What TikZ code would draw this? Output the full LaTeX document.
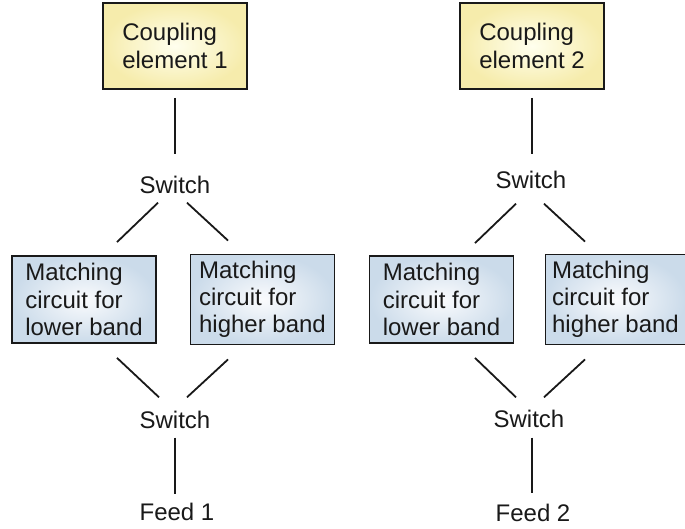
\documentclass[tikz,border=0pt]{standalone}
\usepackage{fontspec}
\setmainfont{Liberation Sans}

\definecolor{couplingin}{RGB}{255,255,238}
\definecolor{couplingout}{RGB}{246,236,172}
\definecolor{matchin}{RGB}{250,251,253}
\definecolor{matchout}{RGB}{203,219,234}
\definecolor{ink}{RGB}{25,25,25}

\tikzset{
  every node/.style={font=\fontsize{12}{13.6}\selectfont, text=ink},
  coupling/.style={draw=ink, line width=0.9pt, inner color=couplingin,
    outer color=couplingout, minimum width=72pt, minimum height=43pt, align=left},
  matching/.style={draw=ink, line width=0.9pt, inner color=matchin,
    outer color=matchout, minimum width=72pt, minimum height=43.5pt, align=left},
  label/.style={inner sep=0pt},
  wire/.style={draw=ink, line width=0.9pt},
}

\begin{document}
\begin{tikzpicture}[x=0.5pt, y=-0.5pt]
    \useasboundingbox (0,0) rectangle (685,529);

    % Left branch
    \node[coupling] (ce1) at (175,46) {Coupling\\element 1};
    \node[label] (sw1a) at (175,185) {Switch};
    \node[matching] (mc1) at (84,299.5) {Matching\\circuit for\\lower band};
    \node[matching] (mc2) at (262.5,299.5) {Matching\\circuit for\\higher band};
    \node[label] (sw1b) at (175,420) {Switch};
    \node[label] (feed1) at (177,512) {Feed 1};

    % Right branch
    \node[coupling] (ce2) at (532,46) {Coupling\\element 2};
    \node[label] (sw2a) at (531,180) {Switch};
    \node[matching] (mc3) at (441.5,299.5) {Matching\\circuit for\\lower band};
    \node[matching, minimum width=68.5pt] (mc4) at (615.5,299.5) {Matching\\circuit for\\higher band};
    \node[label] (sw2b) at (529,419) {Switch};
    \node[label] (feed2) at (533,513) {Feed 2};

    % Wires, left branch
    \draw[wire] ([shift={(0,8)}]ce1.south) -- ([shift={(0,-21.5)}]sw1a.north);
    \draw[wire] ([shift={(-17,8.5)}]sw1a.south) -- ([shift={(33,-13)}]mc1.north);
    \draw[wire] ([shift={(12,8.5)}]sw1a.south) -- ([shift={(-34.5,-13)}]mc2.north);
    \draw[wire] ([shift={(33,14)}]mc1.south) -- ([shift={(-16,-13.5)}]sw1b.north);
    \draw[wire] ([shift={(-34.5,14)}]mc2.south) -- ([shift={(12,-13.5)}]sw1b.north);
    \draw[wire] ([shift={(0,8.5)}]sw1b.south) -- ([shift={(-2,-8.5)}]feed1.north);

    % Wires, right branch
    \draw[wire] ([shift={(0,8)}]ce2.south) -- ([shift={(1,-16.5)}]sw2a.north);
    \draw[wire] ([shift={(-15,14.5)}]sw2a.south) -- ([shift={(33.5,-12)}]mc3.north);
    \draw[wire] ([shift={(13,14.5)}]sw2a.south) -- ([shift={(-30.5,-12)}]mc4.north);
    \draw[wire] ([shift={(33.5,14)}]mc3.south) -- ([shift={(-13,-12.5)}]sw2b.north);
    \draw[wire] ([shift={(-30.5,14)}]mc4.south) -- ([shift={(15,-12.5)}]sw2b.north);
    \draw[wire] ([shift={(3,9.5)}]sw2b.south) -- ([shift={(-1,-10.5)}]feed2.north);
\end{tikzpicture}
\end{document}
